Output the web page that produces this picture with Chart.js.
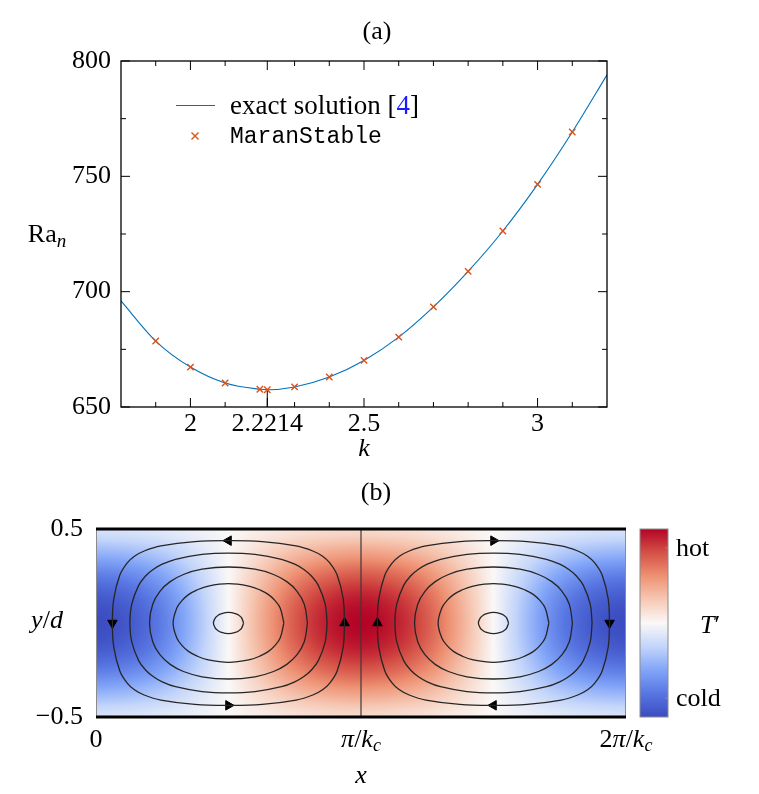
<!DOCTYPE html>
<html>
<head>
<meta charset="utf-8">
<script src="https://cdn.jsdelivr.net/npm/chart.js@4.4.1/dist/chart.umd.min.js"></script>
<style>
html, body { margin: 0; padding: 0; background: #fff; }
#wrap { position: relative; width: 759px; height: 794px; }
#chartA { position: absolute; left: 0; top: 0; }
#chartB { position: absolute; left: 0; top: 470px; }
</style>
</head>
<body>
<div id="wrap">
  <canvas id="chartA" width="759" height="470"></canvas>
  <canvas id="chartB" width="759" height="324"></canvas>
</div>
<script>
// (a) neutral curve Ra_n(k)
const kLine = [1.8, 1.9, 2.0, 2.1, 2.2, 2.2214, 2.3, 2.4, 2.5, 2.6, 2.7, 2.8, 2.9, 3.0, 3.1, 3.2];
const raLine = [696.0, 678.6, 667.3, 660.4, 657.7, 657.5, 658.7, 663.0, 670.2, 680.3, 693.4, 708.8, 726.3, 746.5, 769.2, 794.0];
const kMarks = [1.9, 2.0, 2.1, 2.2, 2.2214, 2.3, 2.4, 2.5, 2.6, 2.7, 2.8, 2.9, 3.0, 3.1];
const raMarks = [678.6, 667.3, 660.4, 657.7, 657.5, 658.7, 663.0, 670.2, 680.3, 693.4, 708.8, 726.3, 746.5, 769.2];
const kCrit = 2.2214;
const raCrit = 657.5;
const kTicks = [1.9, 2, 2.1, 2.2214, 2.3, 2.4, 2.5, 2.6, 2.7, 2.8, 2.9, 3, 3.1];
const kTickLabels = { 2: '2', 2.2214: '2.2214', 2.5: '2.5', 3: '3' };
const raTicks = [650, 675, 700, 725, 750, 775, 800];
const raTickLabels = [650, 700, 750, 800];

// (b) temperature field and streamlines, x in units of pi/k_c
const xCols = [0, 0.125, 0.25, 0.375, 0.5, 0.625, 0.75, 0.875, 1, 1.125, 1.25, 1.375, 1.5, 1.625, 1.75, 1.875, 2];
const tempCols = [-1, -0.92, -0.71, -0.38, 0, 0.38, 0.71, 0.92, 1, 0.92, 0.71, 0.38, 0, -0.38, -0.71, -0.92, -1];
const yRows = [-0.5, -0.375, -0.25, -0.125, 0, 0.125, 0.25, 0.375, 0.5];
const tempRows = [0.15, 0.42, 0.72, 0.93, 1, 0.93, 0.72, 0.42, 0.15];
const cmapStops = [-1, -0.75, -0.5, -0.25, 0, 0.25, 0.5, 0.75, 1];
const cmapColors = [[59,76,192],[88,118,226],[130,165,248],[195,213,250],[250,248,247],[246,200,180],[238,145,115],[212,80,70],[180,4,38]];
const cellCenters = [0.5, 1.5];
// one quarter of each streamline (dx, dy from cell centre)
const loopQuarters = [
  [[0.057,0],[0.049,0.029],[0.040,0.040],[0.029,0.049],[0,0.057]],
  [[0.209,0],[0.195,0.08],[0.175,0.12],[0.151,0.151],[0.12,0.175],[0.08,0.195],[0,0.209]],
  [[0.298,0],[0.286,0.1],[0.258,0.17],[0.220,0.220],[0.17,0.258],[0.1,0.286],[0,0.298]],
  [[0.372,0],[0.365,0.1],[0.339,0.2],[0.313,0.25],[0.2845,0.2845],[0.25,0.313],[0.2,0.339],[0.1,0.365],[0,0.372]],
  [[0.438,0],[0.433,0.127],[0.410,0.255],[0.383,0.318],[0.355,0.355],[0.318,0.383],[0.255,0.410],[0.127,0.433],[0,0.438]]
];
const arrowX = [0.5, 0.5, 0.062, 0.938, 1.5, 1.5, 1.062, 1.938];
const arrowY = [0.438, -0.438, 0, 0, 0.438, -0.438, 0, 0];
const arrowRot = [270, 90, 180, 0, 90, 270, 0, 180];
const cbarTicks = [0.8, -0.8];
const cbarLabels = ['hot', 'cold'];

const SERIF = '"Liberation Serif", "Times New Roman", serif';
const MONO = '"Liberation Mono", "DejaVu Sans Mono", monospace';

function richText(ctx, parts, x, y, align) {
  let w = 0;
  parts.forEach(p => { ctx.font = p[1]; w += ctx.measureText(p[0]).width; });
  let cx = align === 'center' ? x - w / 2 : (align === 'right' ? x - w : x);
  ctx.textAlign = 'left';
  ctx.textBaseline = 'alphabetic';
  parts.forEach(p => {
    ctx.font = p[1];
    ctx.fillStyle = p[3] || '#000';
    ctx.fillText(p[0], cx, y + (p[2] || 0));
    cx += ctx.measureText(p[0]).width;
  });
}

function interp(xs, vs, v) {
  const n = xs.length;
  let t = (v - xs[0]) / (xs[1] - xs[0]);
  t = Math.max(0, Math.min(n - 1, t));
  const i = Math.min(Math.floor(t), n - 2);
  const f = t - i;
  const p0 = vs[Math.max(i - 1, 0)], p1 = vs[i], p2 = vs[i + 1], p3 = vs[Math.min(i + 2, n - 1)];
  return 0.5 * (2 * p1 + (-p0 + p2) * f + (2 * p0 - 5 * p1 + 4 * p2 - p3) * f * f + (-p0 + 3 * p1 - 3 * p2 + p3) * f * f * f);
}

function cmap(v) {
  v = Math.max(-1, Math.min(1, v));
  let i = 0;
  while (i < cmapStops.length - 2 && v > cmapStops[i + 1]) i++;
  const f = (v - cmapStops[i]) / (cmapStops[i + 1] - cmapStops[i]);
  const a = cmapColors[i], b = cmapColors[i + 1];
  return [a[0] + (b[0] - a[0]) * f, a[1] + (b[1] - a[1]) * f, a[2] + (b[2] - a[2]) * f];
}

// ---------- chart (a) ----------
const framePlugin = {
  id: 'frameA',
  afterDraw(chart) {
    const { ctx, chartArea: a, scales: { x, y } } = chart;
    ctx.save();
    ctx.strokeStyle = '#000';
    ctx.lineWidth = 1.3;
    ctx.strokeRect(a.left, a.top, a.right - a.left, a.bottom - a.top);
    ctx.lineWidth = 1;
    ctx.beginPath();
    kTicks.forEach(k => {
      const px = x.getPixelForValue(k);
      const len = kTickLabels[k] ? 9 : 5;
      ctx.moveTo(px, a.bottom); ctx.lineTo(px, a.bottom - len);
      ctx.moveTo(px, a.top); ctx.lineTo(px, a.top + len);
    });
    raTicks.forEach(r => {
      const py = y.getPixelForValue(r);
      const len = raTickLabels.includes(r) ? 9 : 5;
      ctx.moveTo(a.left, py); ctx.lineTo(a.left + len, py);
      ctx.moveTo(a.right, py); ctx.lineTo(a.right - len, py);
    });
    ctx.stroke();

    // labels
    richText(ctx, [['(a)', '26px ' + SERIF]], 377, 39, 'center');
    richText(ctx, [['k', 'italic 26px ' + SERIF]], 364, 456, 'center');
    richText(ctx, [['Ra', '26px ' + SERIF], ['n', 'italic 19px ' + SERIF, 5]], 47, 242, 'center');

    // legend
    ctx.strokeStyle = '#0072BD';
    ctx.lineWidth = 1.1;
    ctx.beginPath(); ctx.moveTo(176, 105.5); ctx.lineTo(215, 105.5); ctx.stroke();
    const lf = '27px ' + SERIF;
    richText(ctx, [['exact solution [', lf], ['4', lf, 0, '#1a1aff'], [']', lf]], 230, 114, 'left');
    ctx.strokeStyle = '#D95319';
    ctx.lineWidth = 1.4;
    ctx.beginPath();
    ctx.moveTo(191.5, 132.5); ctx.lineTo(198.5, 139.5);
    ctx.moveTo(198.5, 132.5); ctx.lineTo(191.5, 139.5);
    ctx.stroke();
    richText(ctx, [['MaranStable', '23px ' + MONO]], 230, 143, 'left');
    ctx.restore();
  }
};

new Chart(document.getElementById('chartA'), {
  type: 'scatter',
  data: {
    datasets: [
      {
        data: kLine.map((k, i) => ({ x: k, y: raLine[i] })),
        showLine: true, borderColor: '#0072BD', borderWidth: 1.1,
        pointRadius: 0, cubicInterpolationMode: 'monotone', order: 3
      },
      {
        data: [{ x: kCrit, y: 650 }, { x: kCrit, y: raCrit }],
        showLine: true, borderColor: '#000', borderWidth: 1, pointRadius: 0, order: 2
      },
      {
        data: kMarks.map((k, i) => ({ x: k, y: raMarks[i] })),
        pointStyle: 'crossRot', pointRadius: 4.5, borderColor: '#D95319',
        backgroundColor: '#D95319', pointBorderWidth: 1.4, order: 1
      }
    ]
  },
  options: {
    responsive: false,
    animation: false,
    layout: { padding: { left: 0, right: 152, top: 61, bottom: 0 } },
    plugins: { legend: { display: false }, tooltip: { enabled: false } },
    scales: {
      x: {
        type: 'linear', min: 1.8, max: 3.2,
        grid: { display: false, drawTicks: false },
        border: { display: false },
        afterBuildTicks: s => { s.ticks = kTicks.map(v => ({ value: v })); },
        afterFit: s => { s.height = 63; },
        ticks: {
          autoSkip: false, maxRotation: 0, padding: 2, color: '#000',
          font: { family: SERIF, size: 26 },
          callback: v => kTickLabels[v] || ''
        }
      },
      y: {
        type: 'linear', min: 650, max: 800,
        grid: { display: false, drawTicks: false },
        border: { display: false },
        afterBuildTicks: s => { s.ticks = raTicks.map(v => ({ value: v })); },
        afterFit: s => { s.width = 121; },
        ticks: {
          autoSkip: false, padding: 10, color: '#000',
          font: { family: SERIF, size: 26 },
          callback: v => raTickLabels.includes(v) ? String(v) : ''
        }
      }
    }
  },
  plugins: [framePlugin]
});

// ---------- chart (b) ----------
const streamSets = [];
cellCenters.forEach(cx => {
  loopQuarters.forEach(q => {
    const pts = [];
    q.forEach(p => pts.push({ x: cx + p[0], y: p[1] }));
    q.slice(0, -1).reverse().forEach(p => pts.push({ x: cx - p[0], y: p[1] }));
    q.slice(1).forEach(p => pts.push({ x: cx - p[0], y: -p[1] }));
    q.slice(0, -1).reverse().forEach(p => pts.push({ x: cx + p[0], y: -p[1] }));
    streamSets.push({
      data: pts, showLine: true, borderColor: '#262626', borderWidth: 1.3,
      pointRadius: 0, tension: 0.4
    });
  });
});

const heatPlugin = {
  id: 'heatB',
  beforeDatasetsDraw(chart) {
    const { ctx, chartArea: a, scales: { x, y } } = chart;
    const w = Math.round(a.right - a.left), h = Math.round(a.bottom - a.top);
    const off = document.createElement('canvas');
    off.width = w; off.height = h;
    const octx = off.getContext('2d');
    const img = octx.createImageData(w, h);
    const colV = [], rowV = [];
    for (let i = 0; i < w; i++) colV.push(interp(xCols, tempCols, x.getValueForPixel(a.left + i + 0.5)));
    for (let j = 0; j < h; j++) rowV.push(interp(yRows, tempRows, y.getValueForPixel(a.top + j + 0.5)));
    for (let j = 0; j < h; j++) {
      for (let i = 0; i < w; i++) {
        const c = cmap(colV[i] * rowV[j]);
        const o = (j * w + i) * 4;
        img.data[o] = c[0]; img.data[o + 1] = c[1]; img.data[o + 2] = c[2]; img.data[o + 3] = 255;
      }
    }
    octx.putImageData(img, 0, 0);
    ctx.drawImage(off, a.left, a.top, a.right - a.left, a.bottom - a.top);

    // colour bar, +1 at top, -1 at bottom
    const bx = a.right + 14, bw = 28;
    const cb = document.createElement('canvas');
    cb.width = 1; cb.height = h;
    const cctx = cb.getContext('2d');
    const cimg = cctx.createImageData(1, h);
    for (let j = 0; j < h; j++) {
      const c = cmap(1 - 2 * (j + 0.5) / h);
      cimg.data[j * 4] = c[0]; cimg.data[j * 4 + 1] = c[1]; cimg.data[j * 4 + 2] = c[2]; cimg.data[j * 4 + 3] = 255;
    }
    cctx.putImageData(cimg, 0, 0);
    ctx.save();
    ctx.imageSmoothingEnabled = true;
    ctx.drawImage(cb, bx, a.top, bw, a.bottom - a.top);
    ctx.strokeStyle = '#8c8c8c';
    ctx.lineWidth = 1;
    ctx.strokeRect(bx, a.top, bw, a.bottom - a.top);
    ctx.beginPath();
    cbarTicks.forEach(t => {
      const py = a.top + (1 - t) / 2 * (a.bottom - a.top);
      ctx.moveTo(bx + bw, py); ctx.lineTo(bx + bw - 3, py);
    });
    ctx.stroke();
    ctx.restore();
  },
  afterDatasetsDraw(chart) {
    const { ctx, chartArea: a } = chart;
    ctx.save();
    ctx.strokeStyle = '#8c8c8c';
    ctx.lineWidth = 1;
    ctx.beginPath();
    ctx.moveTo(a.left + 0.5, a.top); ctx.lineTo(a.left + 0.5, a.bottom);
    ctx.moveTo(a.right - 0.5, a.top); ctx.lineTo(a.right - 0.5, a.bottom);
    ctx.stroke();
    ctx.strokeStyle = '#000';
    ctx.lineWidth = 3;
    ctx.beginPath();
    ctx.moveTo(a.left, a.top); ctx.lineTo(a.right, a.top);
    ctx.moveTo(a.left, a.bottom); ctx.lineTo(a.right, a.bottom);
    ctx.stroke();
    ctx.restore();
  },
  afterDraw(chart) {
    const { ctx, chartArea: a, scales: { x } } = chart;
    const f = '26px ' + SERIF, fi = 'italic 26px ' + SERIF, fs = 'italic 18px ' + SERIF;
    ctx.save();
    richText(ctx, [['(b)', f]], 376, 30, 'center');
    richText(ctx, [['y', fi], ['/', f], ['d', fi]], 47, 158, 'center');
    richText(ctx, [['0', f]], x.getPixelForValue(0), 277, 'center');
    richText(ctx, [['π', fi], ['/', f], ['k', fi], ['c', fs, 4]], x.getPixelForValue(1), 277, 'center');
    richText(ctx, [['2', f], ['π', fi], ['/', f], ['k', fi], ['c', fs, 4]], x.getPixelForValue(2), 277, 'center');
    richText(ctx, [['x', fi]], x.getPixelForValue(1), 313, 'center');
    const bx = a.right + 14, bw = 28;
    cbarTicks.forEach((t, i) => {
      const py = a.top + (1 - t) / 2 * (a.bottom - a.top);
      richText(ctx, [[cbarLabels[i], f]], bx + bw + 8, py + 8, 'left');
    });
    richText(ctx, [['T', fi], ['′', f]], bx + bw + 32, 163, 'left');
    ctx.restore();
  }
};

new Chart(document.getElementById('chartB'), {
  type: 'scatter',
  data: {
    datasets: [
      ...streamSets,
      {
        data: [{ x: 1, y: -0.5 }, { x: 1, y: 0.5 }],
        showLine: true, borderColor: '#3a3a3a', borderWidth: 1.2, pointRadius: 0
      },
      {
        data: arrowX.map((v, i) => ({ x: v, y: arrowY[i] })),
        pointStyle: 'triangle', pointRadius: 5.5, pointRotation: arrowRot,
        backgroundColor: '#000', borderColor: '#000', pointBorderWidth: 1
      }
    ]
  },
  options: {
    responsive: false,
    animation: false,
    layout: { padding: { left: 0, right: 133, top: 59, bottom: 0 } },
    plugins: { legend: { display: false }, tooltip: { enabled: false } },
    scales: {
      x: {
        type: 'linear', min: 0, max: 2,
        grid: { display: false, drawTicks: false },
        border: { display: false },
        ticks: { display: false },
        afterFit: s => { s.height = 77; }
      },
      y: {
        type: 'linear', min: -0.5, max: 0.5,
        grid: { display: false, drawTicks: false },
        border: { display: false },
        afterBuildTicks: s => { s.ticks = [{ value: -0.5 }, { value: 0.5 }]; },
        afterFit: s => { s.width = 96; },
        ticks: {
          padding: 13, color: '#000',
          font: { family: SERIF, size: 26 },
          callback: v => v < 0 ? '\u22120.5' : '0.5'
        }
      }
    }
  },
  plugins: [heatPlugin]
});
</script>
</body>
</html>
